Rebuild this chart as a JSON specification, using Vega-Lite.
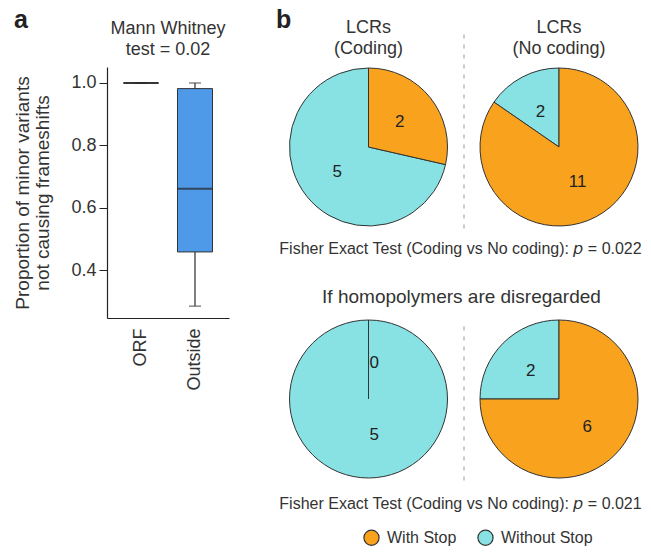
{
  "$schema": "https://vega.github.io/schema/vega-lite/v6.json",
  "padding": {"left": 13, "top": 8, "right": 0, "bottom": 0},
  "config": {
    "font": "Liberation Sans",
    "view": {"stroke": null},
    "title": {"color": "#333", "fontWeight": "normal", "fontSize": 18, "lineHeight": 21},
    "axis": {"labelColor": "#333", "titleColor": "#333", "domainColor": "#222", "tickColor": "#222", "grid": false}
  },
  "spacing": 44,
  "hconcat": [
    {
      "title": {"text": "a", "anchor": "start", "fontSize": 25, "fontWeight": "bold", "color": "#222", "offset": 0, "dy": 13},
      "vconcat": [
        {
          "width": 122,
          "height": 251,
          "title": {"text": ["Mann Whitney", "test = 0.02"], "fontSize": 18, "lineHeight": 21, "offset": 8},
          "data": {"values": [
            {"group": "ORF", "lower": 1.0, "q1": 1.0, "median": 1.0, "q3": 1.0, "upper": 1.0},
            {"group": "Outside", "lower": 0.284, "q1": 0.458, "median": 0.661, "q3": 0.982, "upper": 1.0}
          ]},
          "encoding": {
            "x": {"field": "group", "type": "nominal", "sort": ["ORF", "Outside"],
              "scale": {"paddingInner": 0, "paddingOuter": 0.13},
              "axis": {"title": null, "labelAngle": -90, "labelFontSize": 18, "ticks": false, "labelPadding": 10, "domainWidth": 1.2}}
          },
          "layer": [
            {
              "mark": {"type": "rule", "color": "#555", "strokeWidth": 1.5},
              "encoding": {
                "y": {"field": "lower", "type": "quantitative",
                  "scale": {"domain": [0.246, 1.0513], "nice": false, "zero": false},
                  "axis": {"values": [0.4, 0.6, 0.8, 1.0], "format": ".1f", "labelFontSize": 18, "tickSize": 8, "labelPadding": 3,
                    "title": ["Proportion of minor variants", "not causing frameshifts"], "titleFontSize": 19, "titleFontWeight": "normal", "titlePadding": 18, "titleLineHeight": 20, "domainWidth": 1.2}},
                "y2": {"field": "upper"}
              }
            },
            {
              "mark": {"type": "tick", "color": "#555", "size": 12, "thickness": 1.5},
              "encoding": {"y": {"field": "lower", "type": "quantitative"}}
            },
            {
              "mark": {"type": "tick", "color": "#555", "size": 12, "thickness": 1.5},
              "encoding": {"y": {"field": "upper", "type": "quantitative"}}
            },
            {
              "mark": {"type": "bar", "size": 35, "fill": "#4E9AE8", "stroke": "#333", "strokeWidth": 1},
              "encoding": {"y": {"field": "q1", "type": "quantitative"}, "y2": {"field": "q3"}}
            },
            {
              "mark": {"type": "tick", "size": 35, "thickness": 2, "color": "#222"},
              "encoding": {"y": {"field": "median", "type": "quantitative"}}
            }
          ]
        }
      ]
    },
    {
      "title": {"text": "b", "anchor": "start", "fontSize": 25, "fontWeight": "bold", "color": "#222", "offset": 0, "dy": 14, "dx": 3},
      "spacing": 30,
      "vconcat": [
        {
          "spacing": 13,
          "title": {"text": "Fisher Exact Test (Coding vs No coding): 𝘱 = 0.022", "orient": "bottom", "anchor": "middle", "fontSize": 16, "offset": 12, "dx": 4},
          "hconcat": [
            {
              "width": 191,
              "height": 160,
              "title": {"text": ["LCRs", "(Coding)"], "offset": -27},
              "data": {"values": [
                {"category": "Without Stop", "count": 5},
                {"category": "With Stop", "count": 2}
              ]},
              "layer": [
                {
                  "mark": {"type": "arc", "outerRadius": 79, "stroke": "#333", "strokeWidth": 1},
                  "encoding": {
                    "theta": {"field": "count", "type": "quantitative", "stack": true},
                    "order": {"field": "category", "type": "nominal", "sort": "ascending"},
                    "color": {"field": "category", "type": "nominal",
                      "scale": {"domain": ["With Stop", "Without Stop"], "range": ["#F9A21D", "#88E1E3"]},
                      "legend": {"orient": "none", "legendX": 256, "legendY": 462, "direction": "horizontal", "title": null,
                        "symbolType": "circle", "symbolSize": 230, "symbolStrokeColor": "#333", "symbolStrokeWidth": 1.2,
                        "labelFontSize": 16, "labelColor": "#333", "labelOffset": 7, "columnPadding": 18}}
                  }
                },
                {
                  "mark": {"type": "text", "radius": 40, "fontSize": 17, "color": "#222"},
                  "encoding": {
                    "theta": {"field": "count", "type": "quantitative", "stack": true},
                    "order": {"field": "category", "type": "nominal", "sort": "ascending"},
                    "detail": {"field": "category", "type": "nominal"},
                    "text": {"field": "count", "type": "quantitative"}
                  }
                },
                {
                  "data": {"values": [{}]},
                  "mark": {"type": "rule", "color": "#BBBBBB", "strokeWidth": 1.5, "strokeDash": [4, 6]},
                  "encoding": {
                    "x": {"datum": 1, "type": "quantitative", "scale": {"domain": [0, 1]}, "axis": null},
                    "y": {"datum": -0.01, "type": "quantitative", "scale": {"domain": [0, 1]}, "axis": null},
                    "y2": {"datum": 1.22}
                  }
                }
              ]
            },
            {
              "width": 160,
              "height": 160,
              "title": {"text": ["LCRs", "(No coding)"], "offset": 8},
              "data": {"values": [
                {"category": "Without Stop", "count": 2},
                {"category": "With Stop", "count": 11}
              ]},
              "layer": [
                {
                  "mark": {"type": "arc", "outerRadius": 79, "stroke": "#333", "strokeWidth": 1},
                  "encoding": {
                    "theta": {"field": "count", "type": "quantitative", "stack": true},
                    "order": {"field": "category", "type": "nominal", "sort": "ascending"},
                    "color": {"field": "category", "type": "nominal",
                      "scale": {"domain": ["With Stop", "Without Stop"], "range": ["#F9A21D", "#88E1E3"]},
                      "legend": {"orient": "none", "legendX": 256, "legendY": 462, "direction": "horizontal", "title": null,
                        "symbolType": "circle", "symbolSize": 230, "symbolStrokeColor": "#333", "symbolStrokeWidth": 1.2,
                        "labelFontSize": 16, "labelColor": "#333", "labelOffset": 7, "columnPadding": 18}}
                  }
                },
                {
                  "mark": {"type": "text", "radius": 40, "fontSize": 17, "color": "#222"},
                  "encoding": {
                    "theta": {"field": "count", "type": "quantitative", "stack": true},
                    "order": {"field": "category", "type": "nominal", "sort": "ascending"},
                    "detail": {"field": "category", "type": "nominal"},
                    "text": {"field": "count", "type": "quantitative"}
                  }
                }
              ]
            }
          ]
        },
        {
          "title": {"text": "Fisher Exact Test (Coding vs No coding): 𝘱 = 0.021", "orient": "bottom", "anchor": "middle", "fontSize": 16, "offset": 15, "dx": 4},
          "vconcat": [
            {
              "spacing": 13,
              "title": {"text": "If homopolymers are disregarded", "anchor": "middle", "fontSize": 19, "offset": 11, "dx": 5},
              "hconcat": [
                {
                  "width": 191,
                  "height": 160,
                  "data": {"values": [
                    {"category": "Without Stop", "count": 5},
                    {"category": "With Stop", "count": 0}
                  ]},
                  "layer": [
                    {
                      "mark": {"type": "arc", "outerRadius": 79, "stroke": "#333", "strokeWidth": 1},
                      "encoding": {
                        "theta": {"field": "count", "type": "quantitative", "stack": true},
                        "order": {"field": "category", "type": "nominal", "sort": "ascending"},
                        "color": {"field": "category", "type": "nominal",
                          "scale": {"domain": ["With Stop", "Without Stop"], "range": ["#F9A21D", "#88E1E3"]},
                          "legend": {"orient": "none", "legendX": 256, "legendY": 462, "direction": "horizontal", "title": null,
                            "symbolType": "circle", "symbolSize": 230, "symbolStrokeColor": "#333", "symbolStrokeWidth": 1.2,
                            "labelFontSize": 16, "labelColor": "#333", "labelOffset": 7, "columnPadding": 18}}
                      }
                    },
                    {
                      "mark": {"type": "text", "radius": 36, "fontSize": 17, "color": "#222", "align": "left", "dx": 1},
                      "encoding": {
                        "theta": {"field": "count", "type": "quantitative", "stack": true},
                        "order": {"field": "category", "type": "nominal", "sort": "ascending"},
                        "detail": {"field": "category", "type": "nominal"},
                        "text": {"field": "count", "type": "quantitative"}
                      }
                    },
                    {
                      "data": {"values": [{}]},
                      "mark": {"type": "rule", "color": "#BBBBBB", "strokeWidth": 1.5, "strokeDash": [4, 6]},
                      "encoding": {
                        "x": {"datum": 1, "type": "quantitative", "scale": {"domain": [0, 1]}, "axis": null},
                        "y": {"datum": -0.01, "type": "quantitative", "scale": {"domain": [0, 1]}, "axis": null},
                        "y2": {"datum": 0.96}
                      }
                    }
                  ]
                },
                {
                  "width": 160,
                  "height": 160,
                  "data": {"values": [
                    {"category": "Without Stop", "count": 2},
                    {"category": "With Stop", "count": 6}
                  ]},
                  "layer": [
                    {
                      "mark": {"type": "arc", "outerRadius": 79, "stroke": "#333", "strokeWidth": 1},
                      "encoding": {
                        "theta": {"field": "count", "type": "quantitative", "stack": true},
                        "order": {"field": "category", "type": "nominal", "sort": "ascending"},
                        "color": {"field": "category", "type": "nominal",
                          "scale": {"domain": ["With Stop", "Without Stop"], "range": ["#F9A21D", "#88E1E3"]},
                          "legend": {"orient": "none", "legendX": 256, "legendY": 462, "direction": "horizontal", "title": null,
                            "symbolType": "circle", "symbolSize": 230, "symbolStrokeColor": "#333", "symbolStrokeWidth": 1.2,
                            "labelFontSize": 16, "labelColor": "#333", "labelOffset": 7, "columnPadding": 18}}
                      }
                    },
                    {
                      "mark": {"type": "text", "radius": 40, "fontSize": 17, "color": "#222"},
                      "encoding": {
                        "theta": {"field": "count", "type": "quantitative", "stack": true},
                        "order": {"field": "category", "type": "nominal", "sort": "ascending"},
                        "detail": {"field": "category", "type": "nominal"},
                        "text": {"field": "count", "type": "quantitative"}
                      }
                    }
                  ]
                }
              ]
            }
          ]
        }
      ]
    }
  ]
}
